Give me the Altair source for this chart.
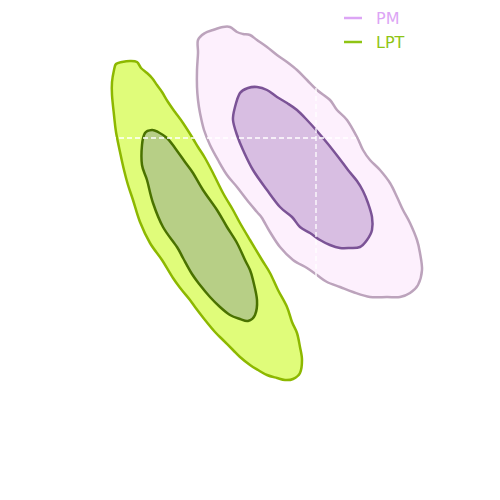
import altair as alt
import pandas as pd

# Contour vertices (arbitrary parameter units, y grows downward in these units)
lpt_outer = [(114,70),(116,64),(122,62),(130,61),(137,62),(141,68),(147,73),(152,78),(157,85),(162,92),
             (168,102),(175,112),(183,123),(192,137),(198,147),(205,158),(213,173),(223,193),(233,210),(240,223),
             (250,240),(262,260),(270,273),(278,290),(287,307),(292,322),(297,333),(300,347),(302,360),(300,373),
             (293,379),(285,380),(277,378),(267,375),(258,370),(250,365),(240,357),(233,350),(223,340),(215,332),
             (205,320),(195,307),(190,300),(181,289),(173,278),(162,260),(150,243),(140,222),(133,200),(128,185),
             (124,170),(120,152),(116,132),(114,115),(112,95),(112,82)]
lpt_inner = [(145,133),(152,130),(158,132),(167,138),(175,148),(185,162),(193,173),(203,190),(217,210),(227,227),
             (237,243),(245,260),(250,270),(253,280),(257,300),(255,315),(248,321),(240,319),(230,315),(220,307),
             (210,297),(200,285),(192,274),(183,258),(177,247),(163,227),(153,203),(147,180),(142,165),(142,145)]
pm_outer = [(198,53),(198,40),(205,33),(213,30),(223,27),(230,27),(237,32),(243,34),(250,35),(257,40),
            (267,47),(277,55),(287,62),(297,70),(307,80),(317,90),(330,100),(337,110),(347,120),(357,137),
            (363,150),(370,160),(380,170),(390,183),(397,197),(403,210),(410,223),(417,240),(420,253),(422,270),
            (418,285),(410,293),(400,297),(387,297),(370,297),(353,292),(340,287),(327,282),(317,275),(307,268),
            (293,260),(280,247),(270,232),(262,218),(257,212),(247,200),(237,187),(227,175),(218,160),(210,145),
            (204,130),(200,113),(198,100),(197,87),(197,70)]
pm_inner = [(233,120),(235,107),(240,93),(248,88),(257,87),(267,90),(277,97),(287,103),(297,110),(307,120),
            (317,131),(328,144),(339,158),(348,170),(357,181),(363,191),(368,203),(372,217),(372,230),(367,240),
            (360,247),(350,248),(340,248),(330,245),(320,240),(310,233),(300,227),(292,217),(280,207),(267,190),
            (253,170),(243,150),(237,135)]

true_x = [316]
true_y = [138]

legend_names = ["PM", "LPT"]
legend_colors = ["#dca5f5", "#8fc414"]

xscale = alt.Scale(domain=[8, 492], nice=False, zero=False)
yscale = alt.Scale(domain=[8, 492], nice=False, zero=False, reverse=True)


def poly(points, fill, stroke):
    df = pd.DataFrame(points, columns=["x", "y"])
    df["i"] = range(len(df))
    return alt.Chart(df).mark_line(
        fill=fill, stroke=stroke, strokeWidth=2.5, interpolate="cardinal-closed",
        strokeJoin="round"
    ).encode(
        x=alt.X("x:Q", scale=xscale, axis=None),
        y=alt.Y("y:Q", scale=yscale, axis=None),
        order="i:Q",
    )


layers = [
    poly(lpt_outer, "#e0fc7a", "#8db800"),
    poly(lpt_inner, "#b7cf86", "#4a7200"),
    poly(pm_outer, "#fdf0fd", "#bca3bc"),
    poly(pm_inner, "#d8bee2", "#7b5396"),
]

vrule = alt.Chart(pd.DataFrame({"x": true_x})).mark_rule(
    color="white", strokeDash=[5, 3], strokeWidth=1.3
).encode(x=alt.X("x:Q", scale=xscale, axis=None))
hrule = alt.Chart(pd.DataFrame({"y": true_y})).mark_rule(
    color="white", strokeDash=[5, 3], strokeWidth=1.3
).encode(y=alt.Y("y:Q", scale=yscale, axis=None))

leg = []
for k, (name, col) in enumerate(zip(legend_names, legend_colors)):
    d = pd.DataFrame({"name": [name]})
    yy = 10 + 24 * k
    leg.append(alt.Chart(d).mark_rule(color=col, strokeWidth=2.5).encode(
        x=alt.value(336), x2=alt.value(354), y=alt.value(yy)))
    leg.append(alt.Chart(d).mark_text(
        color=col, align="left", baseline="middle", fontSize=16, font="DejaVu Sans"
    ).encode(x=alt.value(368), y=alt.value(yy + 1), text="name:N"))

chart = alt.layer(*layers, vrule, hrule, *leg).properties(
    width=484, height=484, padding=0, autosize=alt.AutoSizeParams(type="none")
).configure_view(stroke=None)

chart.save("out.html", embed_options={"renderer": "svg", "actions": False})
